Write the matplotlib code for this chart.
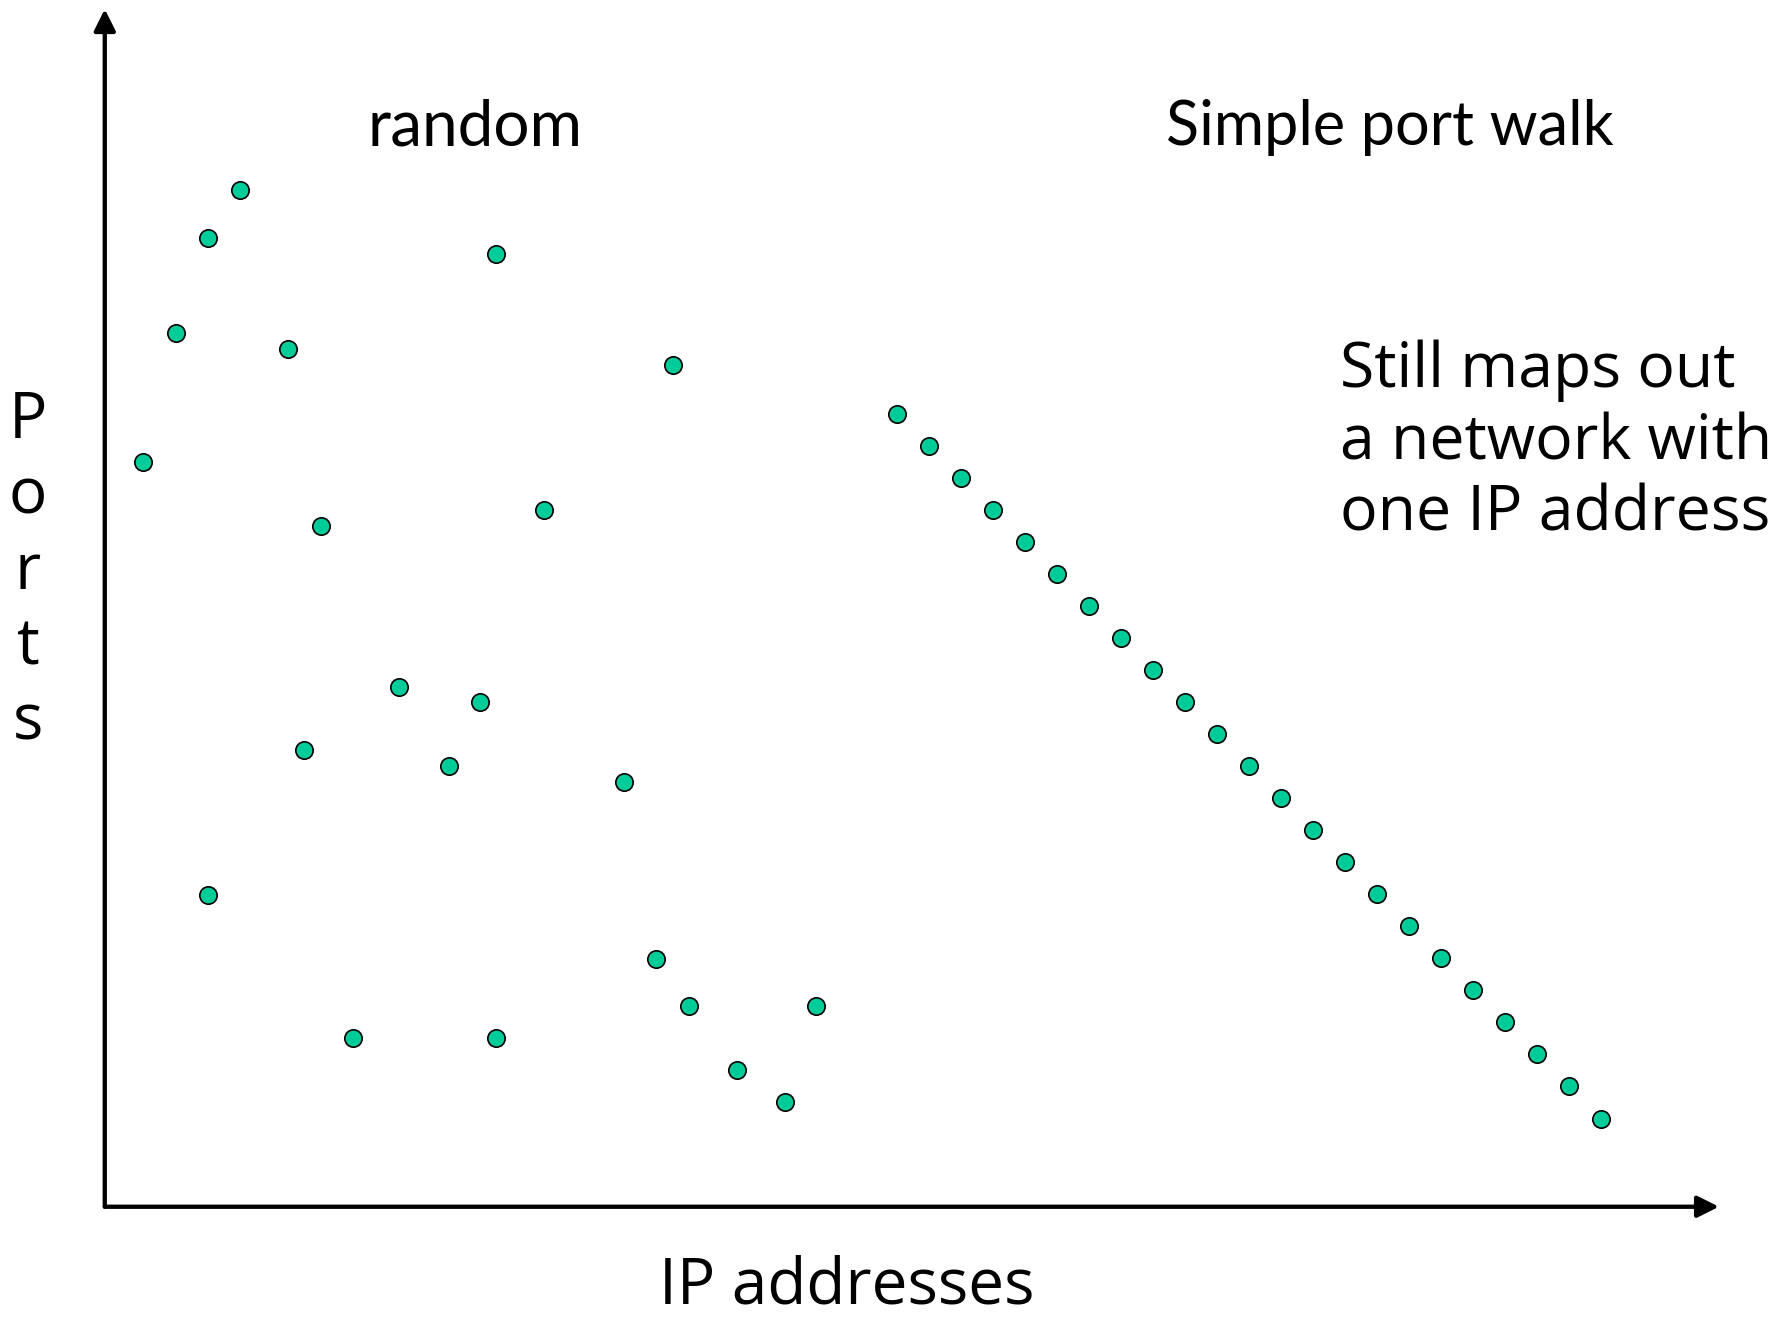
import matplotlib
matplotlib.use('Agg')
import matplotlib.pyplot as plt

# Scan data: x = IP address index, y = port index (arbitrary grid units)
random_ip   = [4.23, 3.24, 12.24, 2.24, 5.73, 17.76, 1.20, 13.74, 6.76, 9.20, 11.74,
               6.23, 10.75, 16.23, 3.24, 17.23, 18.26, 22.24, 7.76, 12.24, 19.75, 21.25]
random_port = [31.78, 30.28, 29.79, 27.30, 26.80, 26.30, 23.27, 21.78, 21.28, 16.26, 15.77,
               14.27, 13.77, 13.27, 9.75, 7.76, 6.26, 6.26, 5.27, 5.27, 4.27, 3.27]

walk_ip   = [24.77, 25.77, 26.77, 27.77, 28.77, 29.77, 30.77, 31.77, 32.77, 33.77, 34.77, 35.77,
             36.77, 37.77, 38.77, 39.77, 40.77, 41.77, 42.77, 43.77, 44.77, 45.77, 46.77]
walk_port = [24.77, 23.77, 22.77, 21.77, 20.77, 19.77, 18.77, 17.77, 16.77, 15.77, 14.77, 13.77,
             12.77, 11.77, 10.77, 9.77, 8.77, 7.77, 6.77, 5.77, 4.77, 3.77, 2.74]

DOT = "#00CC99"
W, H = 1785, 1320
MAIN = "Open Sans"

fig = plt.figure(figsize=(W / 100, H / 100), dpi=100)
fig.patch.set_facecolor("white")

ax = fig.add_axes([0.0587, 0.0858, 0.9043, 0.9073])
ax.set_xlim(0, 50.46)
ax.set_ylim(0, 37.44)
ax.axis("off")

# axes drawn as arrows
arrow = dict(arrowstyle="-|>,head_length=1.3,head_width=0.65", lw=3.1, color="black",
             shrinkA=0, shrinkB=0)
ax.annotate("", xy=(1, 0), xytext=(0, 0), xycoords="axes fraction",
            arrowprops=arrow, annotation_clip=False)
ax.annotate("", xy=(0, 1), xytext=(0, 0), xycoords="axes fraction",
            arrowprops=arrow, annotation_clip=False)

ax.plot(random_ip, random_port, "o", ms=12.5, mfc=DOT, mec="black", mew=1.2,
        ls="none", clip_on=False)
ax.plot(walk_ip, walk_port, "o", ms=12.5, mfc=DOT, mec="black", mew=1.2,
        ls="none", clip_on=False)

script_font = dict(family="Lato", fontweight="normal", color="black")
fig.text(475 / W, 1 - 127 / H, "random", ha="center", va="center",
         fontsize=46, **script_font)
fig.text(1390 / W, 1 - 127 / H, "Simple port walk", ha="center", va="center",
         fontsize=44, **script_font)

fig.text(1340 / W, 1 - 340 / H, "Still maps out\na network with\none IP address",
         ha="left", va="top", fontsize=45, linespacing=1.19, family=MAIN)

fig.text(847 / W, 1 - 1318 / H, "IP addresses", ha="center", va="bottom",
         fontsize=46, family=MAIN)

fig.text(28 / W, 1 - 572 / H, "P\no\nr\nt\ns", ha="center", va="center",
         fontsize=46, linespacing=1.23, family=MAIN)

fig.savefig("out.png", dpi=100, facecolor="white")
